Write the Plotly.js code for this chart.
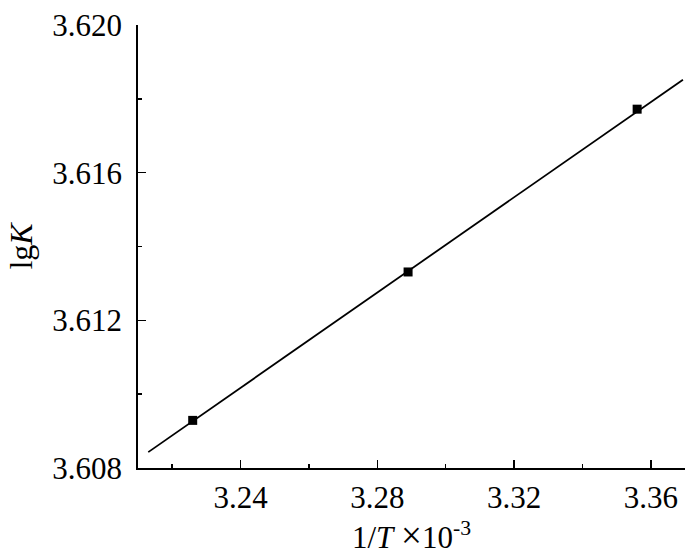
<!DOCTYPE html>
<html>
<head>
<meta charset="utf-8">
<script src="https://cdn.plot.ly/plotly-3.0.1.min.js"></script>
<style>html,body{margin:0;padding:0;background:#fff;}#chart{width:700px;height:559px;}</style>
</head>
<body>
<div id="chart"></div>
<script>
// Measured data points (1/T ×10^-3, lgK)
const invT = [3.226, 3.289, 3.356];
const lgK = [3.60929, 3.61331, 3.61772];
// Linear fit line endpoints
const fitX = [3.213, 3.3694];
const fitY = [3.60843, 3.61852];
const xTickVals = [3.24, 3.28, 3.32, 3.36];
const yTickVals = [3.608, 3.612, 3.616, 3.620];

const font = '"Liberation Serif", "Times New Roman", serif';

const traces = [
  {x: fitX, y: fitY, mode: 'lines', line: {color: '#000', width: 1.8}, hoverinfo: 'skip', showlegend: false},
  {x: invT, y: lgK, mode: 'markers', marker: {symbol: 'square', size: 9, color: '#000'}, showlegend: false}
];

const layout = {
  width: 700, height: 559,
  margin: {l: 138, r: 15, t: 24.5, b: 90.5},
  paper_bgcolor: '#fff', plot_bgcolor: '#fff',
  font: {family: font, color: '#000', size: 31},
  showlegend: false,
  xaxis: {
    range: [3.21, 3.37],
    tickvals: xTickVals, tickformat: '.2f',
    ticks: 'inside', ticklen: 8, tickwidth: 1.6, tickcolor: '#000',
    minor: {ticks: 'inside', ticklen: 4, dtick: 0.02, tick0: 3.22, tickwidth: 1.6, tickcolor: '#000', showgrid: false},
    showline: true, linecolor: '#000', linewidth: 1.8,
    showgrid: false, zeroline: false,
    tickfont: {family: font, size: 31},
    ticklabelstandoff: 1,
    title: {text: '1/<i>T</i> <span style="font-size:37px">×</span>10<sup>-3</sup>', font: {family: font, size: 31}, standoff: 3}
  },
  yaxis: {
    range: [3.608, 3.620],
    tickvals: yTickVals, tickformat: '.3f',
    ticks: 'inside', ticklen: 8, tickwidth: 1.6, tickcolor: '#000',
    minor: {ticks: 'inside', ticklen: 4, dtick: 0.002, tick0: 3.610, tickwidth: 1.6, tickcolor: '#000', showgrid: false},
    showline: true, linecolor: '#000', linewidth: 1.8,
    showgrid: false, zeroline: false,
    tickfont: {family: font, size: 31},
    ticklabelstandoff: 8,
    title: {text: 'lg<i>K</i>', font: {family: font, size: 32}, standoff: 10}
  }
};

Plotly.newPlot('chart', traces, layout, {displayModeBar: false, staticPlot: true});
</script>
</body>
</html>
